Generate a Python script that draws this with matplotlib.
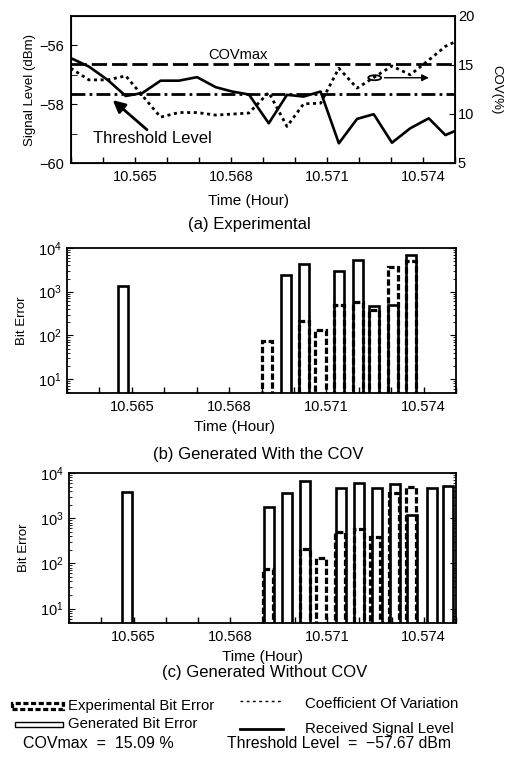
"""Bit error comparison: experimental vs generated, with signal level and COV."""

import matplotlib

matplotlib.use("Agg")
import matplotlib.pyplot as plt
from matplotlib.lines import Line2D
from matplotlib.patches import Ellipse, Rectangle
from matplotlib.ticker import FixedLocator, MultipleLocator, NullFormatter
import numpy as np

plt.rcParams["font.family"] = ["Liberation Sans", "DejaVu Sans"]

# (a) received signal level (dBm) and coefficient of variation (%)
sig_time = [10.56299, 10.56356, 10.56414, 10.56471, 10.56523, 10.5658, 10.56637, 10.56694,
            10.56752, 10.56804, 10.56856, 10.56918, 10.56975, 10.57027, 10.5708, 10.57137,
            10.57194, 10.57246, 10.57303, 10.5736, 10.57418, 10.5747, 10.57496]
sig_level = [-56.43, -56.72, -57.17, -57.72, -57.62, -57.2, -57.2, -57.08,
             -57.42, -57.57, -57.67, -58.65, -57.68, -57.74, -57.57, -59.33,
             -58.5, -58.34, -59.31, -58.82, -58.48, -59.05, -58.93]
cov_time = [10.56299, 10.56356, 10.56414, 10.56471, 10.5658, 10.56637, 10.56694, 10.56752,
            10.56804, 10.56856, 10.56918, 10.56975, 10.57027, 10.5708, 10.57137, 10.57194,
            10.57303, 10.5736, 10.57418, 10.5747, 10.57496]
cov_value = [14.67, 13.48, 13.48, 13.89, 9.68, 10.15, 10.15, 9.89,
             9.99, 10.1, 12.2, 8.73, 11.04, 11.1, 14.67, 12.64,
             14.9, 14.0, 15.5, 16.9, 17.3]
cov_max = 15.09
threshold = -57.67

# experimental bit errors (same in both bar panels)
exp_time = [10.56917, 10.57031, 10.57082, 10.57139, 10.57198, 10.57248, 10.57307, 10.57361]
exp_err = [76, 209, 135, 484, 575, 390, 3700, 5000]

# (b) generated with the COV
gen_b_time = [10.56473, 10.56975, 10.57031, 10.57139, 10.57198, 10.57248, 10.57307, 10.57361]
gen_b_err = [1350, 2460, 4260, 2950, 5260, 460, 484, 7090]

# (c) generated without COV
gen_c_time = [10.56481, 10.56921, 10.56975, 10.57032, 10.57144, 10.57199, 10.57255, 10.5731,
              10.57364, 10.57426, 10.57475]
gen_c_err = [3740, 1780, 3640, 6650, 4660, 6050, 4660, 5850, 1200, 4660, 5260]

time_ticks = [10.565, 10.568, 10.571, 10.574]
time_labels = ["10.565", "10.568", "10.571", "10.574"]

W, H = 506, 764
BAR_W = 0.00031


def box(left, top, right, bottom):
    return [left / W, 1 - bottom / H, (right - left) / W, (bottom - top) / H]


def fx(x):
    return x / W


def fy(y):
    return 1 - y / H


def style_time_axis(ax):
    ax.set_xlim(10.563, 10.575)
    ax.xaxis.set_major_locator(FixedLocator(time_ticks))
    ax.set_xticklabels(time_labels)
    ax.xaxis.set_minor_locator(MultipleLocator(0.001))
    ax.xaxis.set_minor_formatter(NullFormatter())
    ax.tick_params(axis="x", which="both", direction="in", length=4.5, width=1.0, pad=5, labelsize=10.5)
    for spine in ax.spines.values():
        spine.set_linewidth(1.3)


def draw_bars(ax, gen_t, gen_v):
    ax.bar(gen_t, np.asarray(gen_v) - 1, width=BAR_W, bottom=1, fill=False,
           edgecolor="black", linewidth=1.9, zorder=3)
    ax.bar(exp_time, np.asarray(exp_err) - 1, width=BAR_W, bottom=1, fill=False,
           edgecolor="black", linewidth=2.3, linestyle=(0, (2.0, 0.8)), zorder=4)
    ax.set_yscale("log")
    ax.set_ylim(4.8, 1e4)
    style_time_axis(ax)
    ax.tick_params(axis="y", which="both", direction="in", right=True, labelsize=10.5, pad=4)
    ax.tick_params(axis="y", which="major", length=4.5)
    ax.tick_params(axis="y", which="minor", length=2.5)


fig = plt.figure(figsize=(W / 100, H / 100), dpi=100)

# ---- (a) experimental ----
ax = fig.add_axes(box(71, 16, 455, 163))
ax2 = ax.twinx()
ax.plot(sig_time, sig_level, color="black", lw=1.9, zorder=4)
ax.axhline(threshold, color="black", lw=2.0, linestyle=(0, (5, 1.5, 1, 1.5)))
ax2.plot(cov_time, cov_value, color="black", lw=2.0, linestyle=(0, (1.1, 1.3)))
ax2.axhline(cov_max, color="black", lw=2.0, linestyle=(0, (5.5, 1.8)))
ax.set_ylim(-60, -55)
ax2.set_ylim(5, 20)
style_time_axis(ax)
ax.yaxis.set_major_locator(FixedLocator([-60, -58, -56]))
ax.yaxis.set_minor_locator(MultipleLocator(1))
ax.tick_params(axis="y", which="both", direction="in", length=4.5, labelsize=10.5, pad=5)
ax2.yaxis.set_major_locator(FixedLocator([5, 10, 15, 20]))
ax2.tick_params(axis="y", direction="in", length=4.5, labelsize=10.5, pad=2)
ax.set_ylabel("Signal Level (dBm)", fontsize=9.5, labelpad=2)
ax2.set_ylabel("COV(%)", fontsize=9.5, rotation=270, labelpad=20)
ax.text(10.56821, -56.32, "COVmax", fontsize=10.5, ha="center", va="center")
ax.annotate("", xy=(10.56424, -57.80), xytext=(10.56544, -58.93),
            arrowprops=dict(arrowstyle="-|>", color="black", lw=2.0, mutation_scale=18))
ax.text(10.56555, -59.15, "Threshold Level", fontsize=12, ha="center", va="center")
ax.add_patch(Ellipse((10.57249, -57.10), 0.00040, 0.17, fill=False, edgecolor="black", lw=1.3, zorder=5))
ax.annotate("", xy=(10.57427, -57.10), xytext=(10.57271, -57.10),
            arrowprops=dict(arrowstyle="-|>", color="black", lw=1.0, mutation_scale=10))

fig.text(fx(249), fy(201), "Time (Hour)", fontsize=11, ha="center", va="center")
fig.text(fx(249), fy(225), "(a) Experimental", fontsize=12, ha="center", va="center")

# ---- (b) generated with the COV ----
axb = fig.add_axes(box(67, 248, 456, 393))
draw_bars(axb, gen_b_time, gen_b_err)
axb.set_ylabel("Bit Error", fontsize=9.5, labelpad=7)
fig.text(fx(235), fy(427), "Time (Hour)", fontsize=11, ha="center", va="center")
fig.text(fx(258), fy(455), "(b) Generated With the COV", fontsize=12, ha="center", va="center")

# ---- (c) generated without COV ----
axc = fig.add_axes(box(69, 473, 456, 623))
draw_bars(axc, gen_c_time, gen_c_err)
axc.set_ylabel("Bit Error", fontsize=9.5, labelpad=7)
fig.text(fx(263), fy(657), "Time (Hour)", fontsize=11, ha="center", va="center")
fig.text(fx(265), fy(673), "(c) Generated Without COV", fontsize=12, ha="center", va="center")

# ---- legend block ----
fig.add_artist(Rectangle((fx(12), fy(709)), fx(51), 6 / H, fill=False, edgecolor="black",
                         lw=2.3, linestyle=(0, (1.6, 0.8))))
fig.add_artist(Rectangle((fx(15), fy(727)), fx(48), 5 / H, fill=False, edgecolor="black", lw=1.0))
fig.text(fx(68), fy(706), "Experimental Bit Error", fontsize=10.7, ha="left", va="center")
fig.text(fx(68), fy(724), "Generated Bit Error", fontsize=10.7, ha="left", va="center")
fig.add_artist(Line2D([fx(240), fx(283)], [fy(701), fy(701)], color="black", lw=1.0,
                      linestyle=(0, (2, 2.5))))
fig.add_artist(Line2D([fx(240), fx(283)], [fy(729), fy(729)], color="black", lw=2.0))
fig.text(fx(305), fy(704), "Coefficient Of Variation", fontsize=10.8, ha="left", va="center")
fig.text(fx(305), fy(729), "Received Signal Level", fontsize=10.8, ha="left", va="center")
fig.text(fx(23), fy(743), "COVmax  =  15.09 %", fontsize=11.5, ha="left", va="center")
fig.text(fx(227), fy(744), "Threshold Level  =  \u221257.67 dBm", fontsize=11.3, ha="left", va="center")

fig.savefig("out.png", dpi=100)
